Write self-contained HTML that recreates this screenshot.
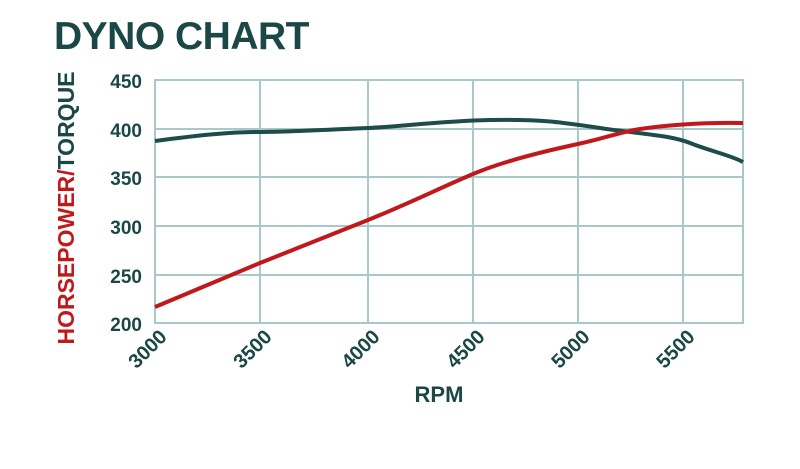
<!DOCTYPE html>
<html><head><style>body{margin:0;background:#fff}svg{display:block}</style></head><body>
<svg width="800" height="469" xmlns="http://www.w3.org/2000/svg" font-family="Liberation Sans, sans-serif" font-weight="bold">
<text x="54" y="49" font-size="39" fill="#1b4747" letter-spacing="-0.5">DYNO CHART</text>
<g stroke="#a9c8cc" stroke-width="2" fill="none">
<rect x="155" y="80" width="588" height="243"/>
<line x1="260" y1="80" x2="260" y2="323"/><line x1="368" y1="80" x2="368" y2="323"/>
<line x1="473" y1="80" x2="473" y2="323"/><line x1="578" y1="80" x2="578" y2="323"/>
<line x1="683" y1="80" x2="683" y2="323"/>
<line x1="155" y1="129" x2="743" y2="129"/><line x1="155" y1="177" x2="743" y2="177"/>
<line x1="155" y1="226" x2="743" y2="226"/><line x1="155" y1="275" x2="743" y2="275"/>
</g>
<g font-size="19" fill="#1b4747" text-anchor="end">
<text x="142" y="88">450</text><text x="142" y="137">400</text><text x="142" y="185">350</text>
<text x="142" y="234">300</text><text x="142" y="283">250</text><text x="142" y="331">200</text>
</g>
<g font-size="20" fill="#1b4747" text-anchor="end">
<text transform="translate(168,338) rotate(-45)">3000</text>
<text transform="translate(273,338) rotate(-45)">3500</text>
<text transform="translate(381,338) rotate(-45)">4000</text>
<text transform="translate(486,338) rotate(-45)">4500</text>
<text transform="translate(591,338) rotate(-45)">5000</text>
<text transform="translate(696,338) rotate(-45)">5500</text>
</g>
<text x="439" y="402" font-size="22" fill="#1b4747" text-anchor="middle">RPM</text>
<text transform="translate(74,208) rotate(-90)" font-size="23" text-anchor="middle"><tspan fill="#c0191c">HORSEPOWER/</tspan><tspan fill="#1b4747">TORQUE</tspan></text>
<path d="M155,141 C200,135 230,132 260,132 S340,129 368,128 S440,121 490,120 S560,122 600,128 S670,135 690,143 S730,155 743,162" stroke="#1d4c4a" stroke-width="4" fill="none"/>
<path d="M155,307 L260,263 L368,220 C410,203 440,188 473,174 S550,150 578,144 S620,132 640,129 S700,122 743,123" stroke="#c0191c" stroke-width="4" fill="none"/>
</svg>
</body></html>
